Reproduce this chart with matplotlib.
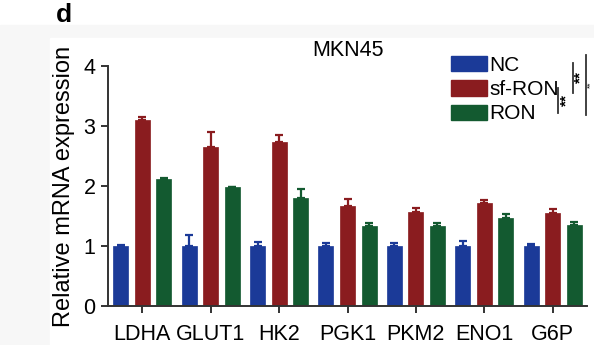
import numpy as np
import matplotlib
matplotlib.use("Agg")
import matplotlib.pyplot as plt
from matplotlib.patches import Rectangle, Patch
from matplotlib.lines import Line2D

plt.rcParams['font.family'] = ['Liberation Sans', 'DejaVu Sans']

genes = ["LDHA", "GLUT1", "HK2", "PGK1", "PKM2", "ENO1", "G6P"]
groups = ["NC", "sf-RON", "RON"]
nc_mean = [1.0, 1.0, 1.0, 1.0, 1.0, 1.0, 1.0]
nc_err = [0.02, 0.18, 0.07, 0.05, 0.05, 0.08, 0.04]
sf_mean = [3.1, 2.65, 2.73, 1.67, 1.57, 1.72, 1.55]
sf_err = [0.05, 0.25, 0.12, 0.11, 0.06, 0.05, 0.07]
ron_mean = [2.12, 1.98, 1.80, 1.33, 1.33, 1.47, 1.35]
ron_err = [0.01, 0.01, 0.15, 0.05, 0.05, 0.06, 0.05]
colors = ["#1b3a98", "#8a1c1f", "#135a30"]

W, H = 594, 345
fig = plt.figure(figsize=(W / 100, H / 100), dpi=100)

def px(x, y):
    return (x / W, 1 - y / H)

# light grey backdrop of the scanned panel
fig.add_artist(Rectangle((0, 0), 1, 1 - 25 / H, transform=fig.transFigure,
                         color="#f7f7f7", zorder=-10))
fig.add_artist(Rectangle((50 / W, 0), 1 - 50 / W, 1 - 38 / H, transform=fig.transFigure,
                         color="white", zorder=-9))

ax = fig.add_axes([108 / W, 1 - 306 / H, (587 - 108) / W, (306 - 66) / H])
ax.patch.set_alpha(0)

x = np.arange(len(genes))
w = 0.22
off = 0.315
series = [(nc_mean, nc_err), (sf_mean, sf_err), (ron_mean, ron_err)]
for i, (m, e) in enumerate(series):
    xs = x + (i - 1) * off
    ax.bar(xs, m, width=w, color=colors[i], edgecolor=colors[i], linewidth=0.5,
           label=groups[i], zorder=2)
    ax.errorbar(xs, m, yerr=[np.zeros(len(m)), e], fmt="none", ecolor=colors[i],
                elinewidth=1.6, capsize=3.2, capthick=1.6, zorder=3)

ax.set_xlim(-0.5, 6.5)
ax.set_ylim(0, 4)
ax.set_yticks([0, 1, 2, 3, 4])
ax.set_xticks(x)
ax.set_xticklabels(genes)
for s in ["top", "right"]:
    ax.spines[s].set_visible(False)
for s in ["left", "bottom"]:
    ax.spines[s].set_linewidth(1.4)
    ax.spines[s].set_color("#333333")
ax.tick_params(axis="both", labelsize=15.5, width=1.4, length=5, color="#333333", pad=4)
ax.tick_params(axis="x", pad=8)
ax.set_ylabel("Relative mRNA expression", fontsize=17, labelpad=6)
ax.set_title("MKN45", fontsize=15.5, pad=7)

handles = [Patch(facecolor=c, edgecolor=c) for c in colors]
fig.legend(handles, groups, loc="upper left", bbox_to_anchor=px(451, 56),
           frameon=False, fontsize=15, handlelength=1.75, handleheight=0.75,
           handletextpad=0.1, labelspacing=0.25, borderaxespad=0, borderpad=0)

# significance brackets
def vline(xp, y0, y1):
    fig.add_artist(Line2D([xp / W, xp / W], [1 - y0 / H, 1 - y1 / H],
                          transform=fig.transFigure, color="#333333", lw=1.3))

vline(558, 88, 113)
fig.text(*px(566, 100), "**", rotation=90, ha="center", va="center",
         fontsize=11, fontweight="bold")
vline(573, 63, 93)
fig.text(*px(580, 77), "**", rotation=90, ha="center", va="center",
         fontsize=11, fontweight="bold")
vline(586, 55, 115)
fig.text(*px(590.5, 85), "**", rotation=90, ha="center", va="center", fontsize=6)

fig.text(*px(56, 15), "d", fontsize=19, fontweight="bold", ha="left", va="center")

fig.savefig("out.png", dpi=100)
